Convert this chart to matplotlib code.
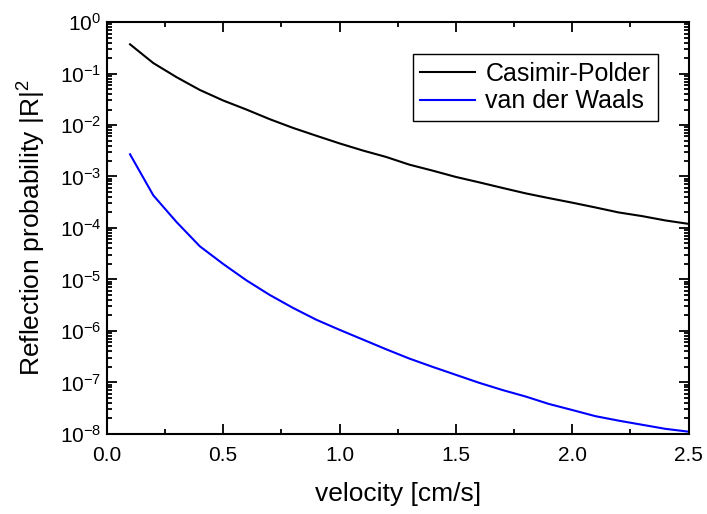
import matplotlib
matplotlib.use("Agg")
import matplotlib.pyplot as plt
import numpy as np
from matplotlib.ticker import MultipleLocator, LogLocator, NullFormatter

plt.rcParams['font.family'] = ['Liberation Sans', 'DejaVu Sans']
plt.rcParams['mathtext.fontset'] = 'custom'
plt.rcParams['mathtext.rm'] = 'Liberation Sans'
plt.rcParams['mathtext.it'] = 'Liberation Sans:italic'

# velocity [cm/s]
velocity = [0.1, 0.2, 0.3, 0.4, 0.5, 0.6, 0.7, 0.8, 0.9, 1.0,
            1.1, 1.2, 1.3, 1.4, 1.5, 1.6, 1.7, 1.8, 1.9, 2.0,
            2.1, 2.2, 2.3, 2.4, 2.5]

# reflection probability, Casimir-Polder
r_cp = [0.37, 0.16, 0.085, 0.048, 0.030, 0.020, 0.013, 0.0088, 0.0062, 0.0044,
        0.0032, 0.0024, 0.0017, 0.0013, 0.00098, 0.00077, 0.00060, 0.00047, 0.00038, 0.00031,
        0.00025, 0.00020, 0.00017, 0.00014, 0.00012]

# reflection probability, van der Waals
r_vdw = [2.7e-3, 4.3e-4, 1.3e-4, 4.4e-5, 2.0e-5, 9.6e-6, 5.0e-6, 2.8e-6, 1.65e-6, 1.05e-6,
         6.8e-7, 4.4e-7, 2.9e-7, 2.0e-7, 1.4e-7, 9.8e-8, 7.1e-8, 5.3e-8, 3.8e-8, 2.9e-8,
         2.2e-8, 1.8e-8, 1.5e-8, 1.25e-8, 1.1e-8]

fig = plt.figure(figsize=(7.07, 5.14), dpi=100)
ax = fig.add_axes([0.151, 0.156, 0.823, 0.801])

ax.plot(velocity, r_cp, color='black', lw=1.5, label='Casimir-Polder')
ax.plot(velocity, r_vdw, color='blue', lw=1.5, label='van der Waals')

ax.set_yscale('log')
ax.set_xlim(0, 2.5)
ax.set_ylim(1e-8, 1)

ax.xaxis.set_major_locator(MultipleLocator(0.5))
ax.xaxis.set_minor_locator(MultipleLocator(0.25))
ax.xaxis.set_major_formatter(matplotlib.ticker.FormatStrFormatter('%.1f'))
ax.yaxis.set_major_locator(LogLocator(base=10, numticks=20))
ax.yaxis.set_minor_locator(LogLocator(base=10, subs=np.arange(2, 10), numticks=20))
ax.yaxis.set_minor_formatter(NullFormatter())

ax.tick_params(which='both', direction='in', top=True, right=True, width=1.3)
ax.tick_params(which='major', length=7, labelsize=15)
ax.tick_params(which='minor', length=3.5)
ax.tick_params(axis='x', which='major', pad=9)
ax.tick_params(axis='y', which='major', pad=4)
for s in ax.spines.values():
    s.set_linewidth(1.5)

ax.set_xlabel('velocity [cm/s]', fontsize=19, labelpad=12)
ax.set_ylabel('Reflection probability |R|$^2$', fontsize=19, labelpad=8)

leg = ax.legend(loc='upper right', bbox_to_anchor=(0.947, 0.922), borderaxespad=0,
                fontsize=18, fancybox=False, edgecolor='black', framealpha=1,
                handlelength=2.2, handletextpad=0.4, borderpad=0.3, labelspacing=0.15)
leg.get_frame().set_linewidth(1.0)

fig.savefig('out.png', dpi=100)
